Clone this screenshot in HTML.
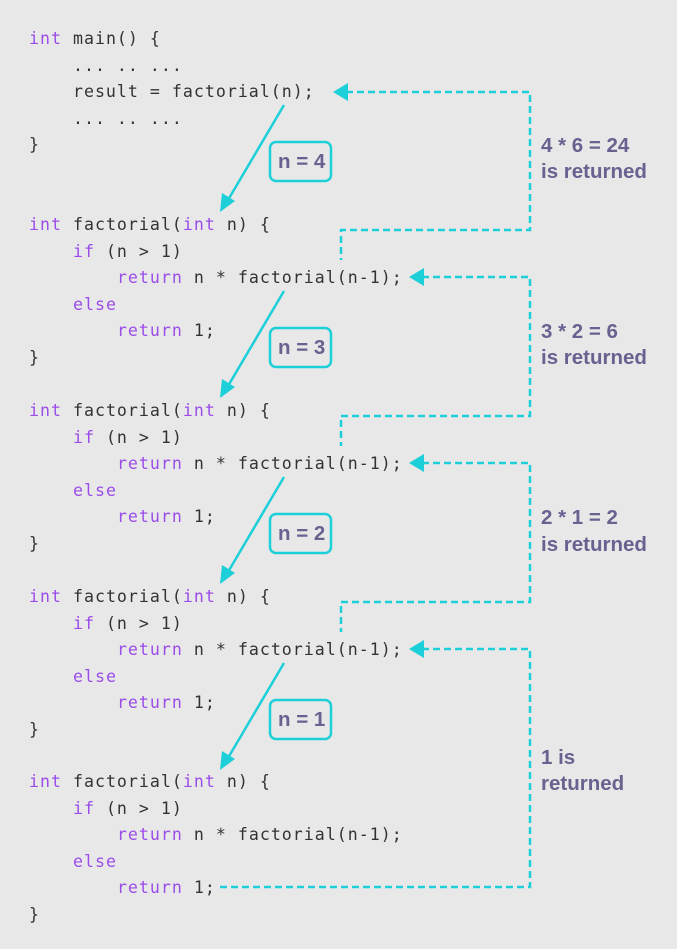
<!DOCTYPE html>
<html><head><meta charset="utf-8"><style>
html,body{margin:0;padding:0}
body{width:677px;height:949px;background:#e8e8e8;position:relative;overflow:hidden}
.code{position:absolute;left:29px;margin:0;font-family:"DejaVu Sans Mono","Liberation Mono",monospace;font-size:16.6px;letter-spacing:1.0px;line-height:26.5px;color:#333;white-space:pre}
.k{color:#9b4de8}
svg{position:absolute;left:0;top:0}
.lab{font-family:"Liberation Sans",sans-serif;font-weight:bold;font-size:20.5px;fill:#67628f}
</style></head><body>
<pre class="code" style="top:26px"><span class="k">int</span> main() {
    ... .. ...
    result = factorial(n);
    ... .. ...
}</pre>
<pre class="code" style="top:212px"><span class="k">int</span> factorial(<span class="k">int</span> n) {
    <span class="k">if</span> (n &gt; 1)
        <span class="k">return</span> n * factorial(n-1);
    <span class="k">else</span>
        <span class="k">return</span> 1;
}</pre>
<pre class="code" style="top:398px"><span class="k">int</span> factorial(<span class="k">int</span> n) {
    <span class="k">if</span> (n &gt; 1)
        <span class="k">return</span> n * factorial(n-1);
    <span class="k">else</span>
        <span class="k">return</span> 1;
}</pre>
<pre class="code" style="top:584px"><span class="k">int</span> factorial(<span class="k">int</span> n) {
    <span class="k">if</span> (n &gt; 1)
        <span class="k">return</span> n * factorial(n-1);
    <span class="k">else</span>
        <span class="k">return</span> 1;
}</pre>
<pre class="code" style="top:769px"><span class="k">int</span> factorial(<span class="k">int</span> n) {
    <span class="k">if</span> (n &gt; 1)
        <span class="k">return</span> n * factorial(n-1);
    <span class="k">else</span>
        <span class="k">return</span> 1;
}</pre>
<svg width="677" height="949" viewBox="0 0 677 949">
<g stroke="#1ccfd8" stroke-width="2.5" fill="none">
<line x1="284" y1="105" x2="228" y2="200"/>
<line x1="284" y1="291" x2="228" y2="386"/>
<line x1="284" y1="477" x2="228" y2="572"/>
<line x1="284" y1="663" x2="228" y2="758"/>
<rect x="270" y="142" width="61" height="39" rx="6"/>
<rect x="270" y="328" width="61" height="39" rx="6"/>
<rect x="270" y="514" width="61" height="39" rx="6"/>
<rect x="270" y="700" width="61" height="39" rx="6"/>
<g stroke-dasharray="7,4">
<polyline points="346,92 530,92 530,230 341,230 341,260"/>
<polyline points="422,277 530,277 530,416 341,416 341,446"/>
<polyline points="422,463 530,463 530,602 341,602 341,632"/>
<polyline points="422,649 530,649 530,887 218,887"/>
</g>
</g>
<g fill="#1ccfd8">
<polygon points="220,212 222,193 235,201"/>
<polygon points="220,398 222,379 235,387"/>
<polygon points="220,584 222,565 235,573"/>
<polygon points="220,770 222,751 235,759"/>
<polygon points="333,92 348,83 348,101"/>
<polygon points="409,277 424,268 424,286"/>
<polygon points="409,463 424,454 424,472"/>
<polygon points="409,649 424,640 424,658"/>
</g>
<g class="lab">
<text x="278" y="168">n = 4</text>
<text x="278" y="354">n = 3</text>
<text x="278" y="540">n = 2</text>
<text x="278" y="726">n = 1</text>
<text x="541" y="152">4 * 6 = 24</text>
<text x="541" y="178">is returned</text>
<text x="541" y="338">3 * 2 = 6</text>
<text x="541" y="364">is returned</text>
<text x="541" y="524">2 * 1 = 2</text>
<text x="541" y="551">is returned</text>
<text x="541" y="764">1 is</text>
<text x="541" y="790">returned</text>
</g>
</svg>
</body></html>
